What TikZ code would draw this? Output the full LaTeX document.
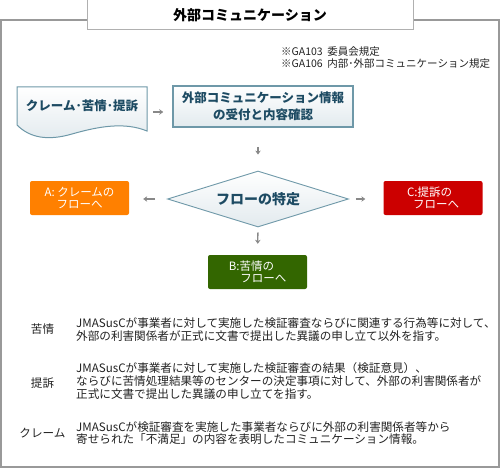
\documentclass[tikz,border=0pt]{standalone}
\usepackage{fontspec}
\setmainfont{Noto Sans CJK JP}
\usetikzlibrary{shapes.geometric,arrows.meta,calc}
\definecolor{framegray}{HTML}{999999}
\definecolor{titlegray}{HTML}{B0B0B0}
\definecolor{flowline}{HTML}{6E98A8}
\definecolor{flowtext}{HTML}{1D4B63}
\definecolor{flowfill}{HTML}{E2EAEE}
\definecolor{arrgray}{HTML}{888888}
\definecolor{aorange}{HTML}{FF8000}
\definecolor{cred}{HTML}{CC0000}
\definecolor{bgreen}{HTML}{336600}
\definecolor{deftext}{HTML}{222222}
\tikzset{
  frameline/.style={draw=framegray,line width=1.3pt},
  titlebox/.style={draw=titlegray,line width=1pt,fill=white,minimum width=326pt,minimum height=30pt,inner sep=0pt,font=\fontsize{14}{16}\selectfont\bfseries},
  notetext/.style={align=left,anchor=west,inner sep=0pt,font=\fontsize{10.5}{11.5}\selectfont,text=deftext},
  flowlabel/.style={inner sep=0pt,text=flowtext,font=\fontsize{12.5}{17}\selectfont\bfseries,align=center},
  flowbox/.style={flowlabel,draw=flowline,line width=1.5pt,top color=white,bottom color=flowfill,minimum width=180pt,minimum height=41pt},
  decision/.style={flowlabel,diamond,draw=flowline,line width=0.9pt,top color=white,bottom color=flowfill,minimum width=181pt,minimum height=56pt,aspect=3.2,font=\fontsize{14}{16}\selectfont\bfseries},
  resultbox/.style={rounded corners=2pt,minimum width=99pt,minimum height=34pt,inner sep=0pt,text=white,font=\fontsize{11.5}{12.5}\selectfont,align=left},
  arr/.style={draw=arrgray,line width=1.3pt,-{Stealth[length=4pt,width=5.5pt]}},
  deflabel/.style={inner sep=0pt,font=\fontsize{11.6}{13}\selectfont,text=deftext},
  deftxt/.style={inner sep=0pt,anchor=west,align=left,font=\fontsize{11.6}{12.8}\selectfont,text=deftext}
}
\begin{document}
\begin{tikzpicture}[x=1pt,y=-1pt]
\useasboundingbox (0,0) rectangle (500,468);
% outer frame
\draw[frameline] (87,20) -- (1,20) -- (1,467) -- (499,467) -- (499,20) -- (413,20);
\node[titlebox] (title) at (250,15) {外部コミュニケーション};
% notes
\node[notetext] (note) at (281,57.5) {※GA103\ \ 委員会規定\\※GA106\ \ 内部･外部コミュニケーション規定};
% document shape
\path[draw=flowline,line width=1pt,top color=white,bottom color=flowfill]
  (17,87) -- (147,87) -- (147,131)
  .. controls (125,122) and (100,126) .. (72,134)
  .. controls (48,141) and (30,138) .. (17,125) -- cycle;
\node[flowlabel,minimum width=130pt,minimum height=38pt] (doc) at (82,106) {クレーム･苦情･提訴};
% reception box
\node[flowbox] (recv) at (263,106.5) {外部コミュニケーション情報\\の受付と内容確認};
% decision
\node[decision] (dec) at (258,199) {フローの特定};
% result boxes
\node[resultbox,fill=aorange,align=center] (resA) at (79.5,198) {A: クレームの\\フローへ};
\node[resultbox,fill=cred] (resC) at (433,198) {C:提訴の\\\hspace{6pt}フローへ};
\node[resultbox,fill=bgreen] (resB) at (257.5,272) {B:苦情の\\　フローへ};
% connectors
\draw[arr,shorten <=6pt,shorten >=9pt] ([yshift=-6pt]doc.east) -- ([yshift=-5.5pt]recv.west);
\draw[arr,shorten <=19pt,shorten >=16pt] (recv.south -| dec.north) -- (dec.north);
\draw[arr,shorten <=12pt,shorten >=14pt] (dec.west) -- (resA.east |- dec.west);
\draw[arr,shorten <=7pt,shorten >=18pt] (dec.east) -- (resC.west |- dec.east);
\draw[arr,shorten <=5pt,shorten >=11pt] (dec.south) -- (resB.north);
% definitions
\node[deflabel] (lblK) at (42.5,329) {苦情};
\node[deftxt] (defK) at (76,329.5) {JMASusCが事業者に対して実施した検証審査ならびに関連する行為等に対して、\\外部の利害関係者が正式に文書で提出した異議の申し立て以外を指す。};
\node[deflabel] (lblT) at (42.5,383) {提訴};
\node[deftxt] (defT) at (76,381) {JMASusCが事業者に対して実施した検証審査の結果（検証意見）、\\ならびに苦情処理結果等のセンターの決定事項に対して、外部の利害関係者が\\正式に文書で提出した異議の申し立てを指す。};
\node[deflabel] (lblC) at (42.5,433) {クレーム};
\node[deftxt] (defC) at (76,433) {JMASusCが検証審査を実施した事業者ならびに外部の利害関係者等から\\寄せられた「不満足」の内容を表明したコミュニケーション情報。};
\end{tikzpicture}
\end{document}
